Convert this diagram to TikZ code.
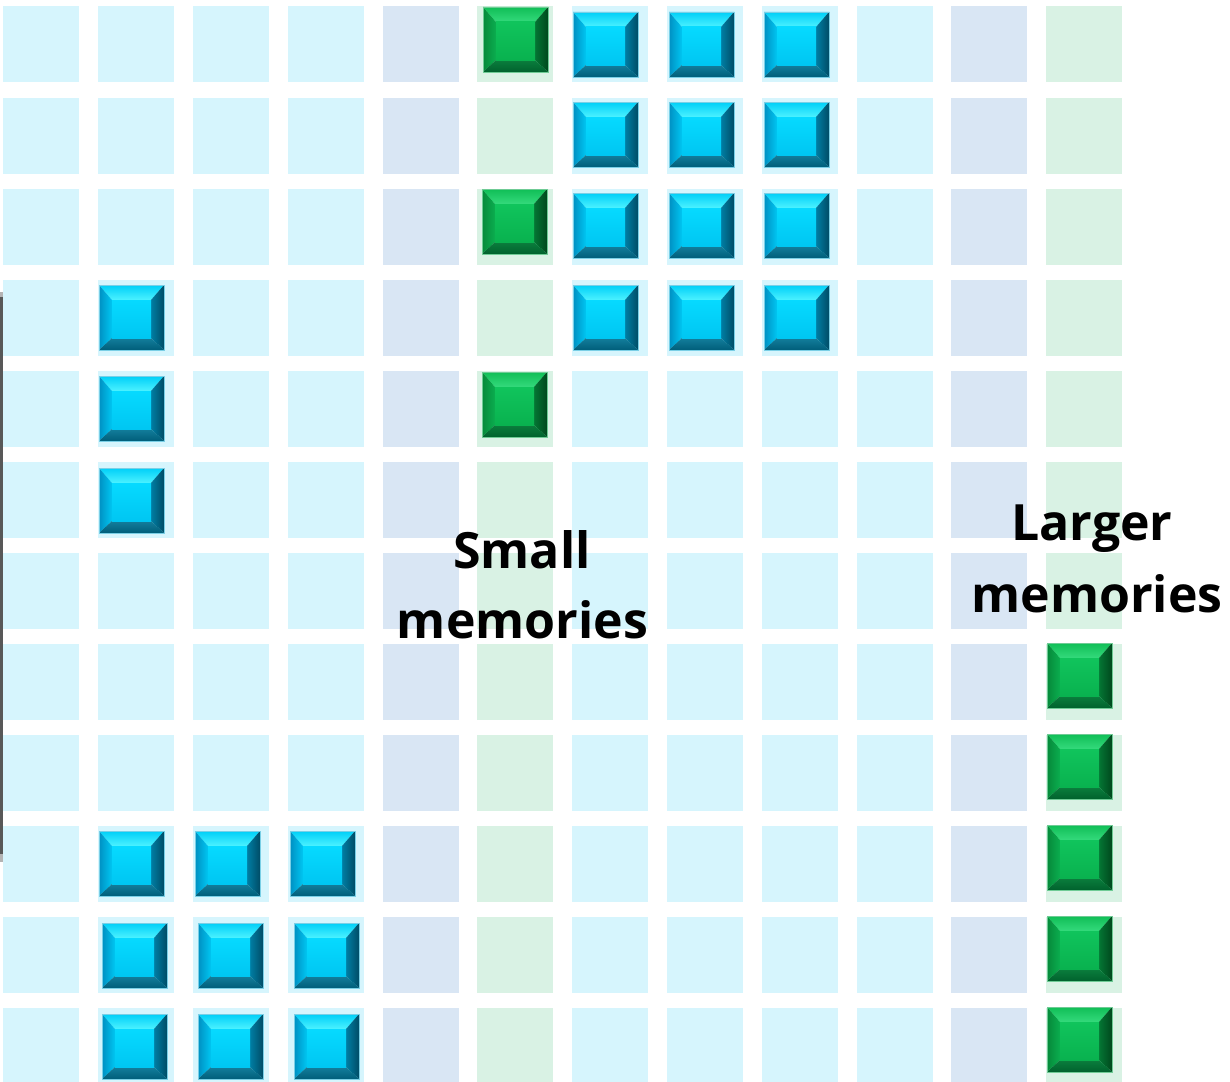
\documentclass[tikz,border=0pt]{standalone}
\usepackage{fontspec}
\setmainfont{Open Sans}
\definecolor{cyancell}{HTML}{D6F5FD}
\definecolor{graycell}{HTML}{D9E6F4}
\definecolor{greencell}{HTML}{D9F2E4}
% blue bevel colours
\definecolor{blueTopO}{HTML}{00CFF8}
\definecolor{blueTopM}{HTML}{1CE2FF}
\definecolor{blueTopI}{HTML}{4CF2FF}
\definecolor{blueLeftO}{HTML}{0090C2}
\definecolor{blueLeftI}{HTML}{00C6F2}
\definecolor{blueRightI}{HTML}{007EA4}
\definecolor{blueRightO}{HTML}{004C66}
\definecolor{blueBotI}{HTML}{137E9C}
\definecolor{blueBotO}{HTML}{005E7A}
\definecolor{blueFaceT}{HTML}{06DAFF}
\definecolor{blueFaceB}{HTML}{00C6F2}
\definecolor{blueEdge}{HTML}{7ACFE6}
% green bevel colours
\definecolor{greenTopO}{HTML}{10BE56}
\definecolor{greenTopM}{HTML}{1ECC66}
\definecolor{greenTopI}{HTML}{34DA7C}
\definecolor{greenLeftO}{HTML}{06893A}
\definecolor{greenLeftI}{HTML}{0BAE4F}
\definecolor{greenRightI}{HTML}{047634}
\definecolor{greenRightO}{HTML}{00481D}
\definecolor{greenBotI}{HTML}{0B7E3D}
\definecolor{greenBotO}{HTML}{00622D}
\definecolor{greenFaceT}{HTML}{10C45C}
\definecolor{greenFaceB}{HTML}{09B24F}
\definecolor{greenEdge}{HTML}{6FCB95}
\definecolor{barDark}{HTML}{585858}
\definecolor{barLight}{HTML}{B4B4B4}
\tikzset{
  pics/bevel/.style={code={
    \shade[top color=#1TopO, middle color=#1TopM, bottom color=#1TopI]
      (0,0) -- (65,0) -- (52,15) -- (13,15) -- cycle;
    \shade[left color=#1LeftO, right color=#1LeftI]
      (0,0) -- (13,15) -- (13,53) -- (0,65) -- cycle;
    \shade[left color=#1RightI, right color=#1RightO]
      (65,0) -- (65,65) -- (52,53) -- (52,15) -- cycle;
    \shade[top color=#1BotI, bottom color=#1BotO]
      (0,65) -- (65,65) -- (52,53) -- (13,53) -- cycle;
    \shade[top color=#1FaceT, bottom color=#1FaceB] (13,15) rectangle (52,53);
    \draw[#1Edge, line width=0.8pt] (0,0) rectangle (65,65);
  }},
  lbl/.style={font=\fontsize{50}{60}\selectfont\bfseries, inner sep=0pt, anchor=base, text=black}
}
\begin{document}
\begin{tikzpicture}[x=1pt,y=-1pt]
\useasboundingbox (0,0) rectangle (1230,1081);
\fill[white] (0,0) rectangle (1230,1081);
% background cells
\foreach \x/\cc in {3/cyancell,98/cyancell,193/cyancell,288/cyancell,383/graycell,477/greencell,572/cyancell,667/cyancell,762/cyancell,857/cyancell,951/graycell,1046/greencell}{
  \foreach \y in {6,98,189,280,371,462,553,644,735,826,917,1008}{
    \fill[\cc] (\x,\y) rectangle ++(76,76);
  }
}
% left edge bar
\fill[barDark] (0,296) rectangle (2.7,854);
\fill[barLight] (0,292) rectangle (3,297);
\fill[barLight] (0,854) rectangle (3,862);
% green squares, small memories column
\pic at (483,7) {bevel=green};
\pic at (482,189) {bevel=green};
\pic at (482,372) {bevel=green};
% blue block top right
\foreach \x in {573,669,764}{
  \foreach \y in {12,102,193,285}{
    \pic at (\x,\y) {bevel=blue};
  }
}
% blue column left
\foreach \y in {285,376,468}{
  \pic at (99,\y) {bevel=blue};
}
% blue block bottom left
\foreach \x in {99,195,290}{\pic at (\x,831) {bevel=blue};}
\foreach \x in {102,198,294}{
  \foreach \y in {923,1014}{
    \pic at (\x,\y) {bevel=blue};
  }
}
% green squares, larger memories column
\foreach \y in {643,734,825,916,1007}{
  \pic at (1047,\y) {bevel=green};
}
% labels
\node[lbl] (small1) at (522,568) {Small};
\node[lbl] (small2) at (522.5,638) {memories};
\node[lbl] (large1) at (1092,540) {Larger};
\node[lbl] (large2) at (1097,612) {memories};
\end{tikzpicture}
\end{document}
